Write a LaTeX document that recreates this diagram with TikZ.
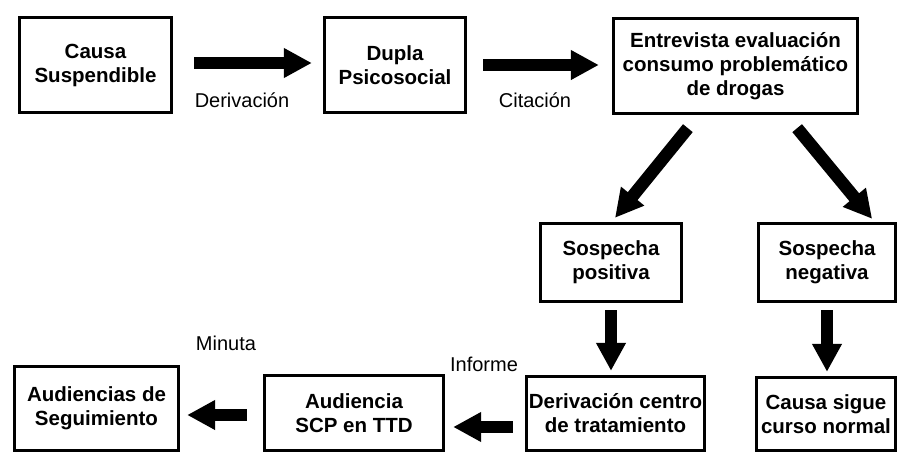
\documentclass[tikz,border=0pt]{standalone}
\usepackage{fontspec}
\setmainfont{Liberation Sans}
\usetikzlibrary{arrows.meta}
\begin{document}
\begin{tikzpicture}[x=1pt,y=-1pt,
  box/.style={draw, line width=2.8pt, align=center, inner sep=0pt,
    font=\fontsize{20.5}{24}\selectfont\bfseries},
  lbl/.style={font=\fontsize{20}{23}\selectfont, inner sep=0pt},
  bigarrow/.style={line width=12.5pt, -{Triangle[length=28pt,width=28pt]}}]
\useasboundingbox (0,0) rectangle (898,455);
\fill[white] (0,0) rectangle (898,455);
% boxes
\node[box, minimum width=152.5pt, minimum height=95.5pt] (b1) at (95.5,65) {Causa\\Suspendible};
\node[box, minimum width=141.5pt, minimum height=95.5pt] (b2) at (395,65) {Dupla\\Psicosocial};
\node[box, minimum width=244.5pt, minimum height=95.5pt] (b3) at (735.5,66) {Entrevista evaluación\\consumo problemático\\de drogas};
\node[box, minimum width=141.5pt, minimum height=78.5pt] (b4) at (611,262.5) {Sospecha\\positiva};
\node[box, minimum width=137.5pt, minimum height=78.5pt] (b5) at (827,262.5) {Sospecha\\negativa};
\node[box, minimum width=139.5pt, minimum height=73.5pt] (b6) at (826,414) {Causa sigue\\curso normal};
\node[box, minimum width=178.5pt, minimum height=74.5pt] (b7) at (615.5,413.5) {Derivación centro\\de tratamiento};
\node[box, minimum width=179.5pt, minimum height=75.5pt] (b8) at (354,413) {Audiencia\\SCP en TTD};
\node[box, minimum width=164.5pt, minimum height=84.5pt] (b9) at (96.5,408.5) {Audiencias de\\Seguimiento};
% arrows
\draw[bigarrow, shorten <=21pt, shorten >=11pt] ([yshift=2pt]b1.east) -- ([yshift=2pt]b2.west);
\draw[bigarrow, shorten <=16pt, shorten >=13pt] (b2.east) -- (b2.east -| b3.west);
\draw[bigarrow] ([xshift=76pt,yshift=-13pt]b3.south west) -- ([xshift=4pt,yshift=4pt]b4.north);
\draw[bigarrow] ([xshift=-62pt,yshift=-13pt]b3.south east) -- ([xshift=-25pt,yshift=3pt]b5.north east);
\draw[bigarrow, shorten <=7pt, shorten >=4pt] (b4.south) -- (b4.south |- b7.north);
\draw[bigarrow, shorten <=7pt, shorten >=4pt] (b5.south) -- (b5.south |- b6.north);
\draw[bigarrow, shorten <=12pt, shorten >=8pt] ([yshift=-13.5pt]b7.west) -- ([yshift=-13.5pt]b7.west -| b8.east);
\draw[bigarrow, shorten <=16pt, shorten >=7pt] ([yshift=-2pt]b8.west) -- ([yshift=-2pt]b8.west -| b9.east);
% labels
\node[lbl] (l1) at (242,100) {Derivación};
\node[lbl] (l2) at (535,100) {Citación};
\node[lbl] (l3) at (226,343) {Minuta};
\node[lbl] (l4) at (484,364) {Informe};
\end{tikzpicture}
\end{document}
